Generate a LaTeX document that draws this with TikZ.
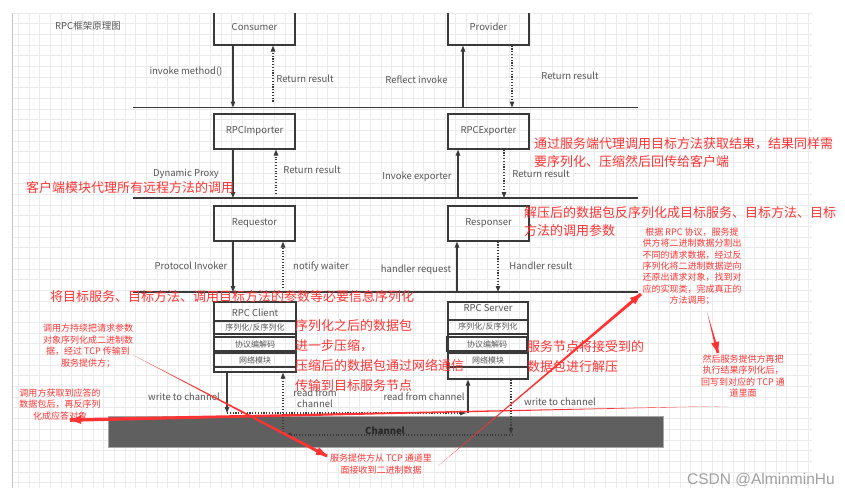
\documentclass[tikz,border=0pt]{standalone}
\usepackage{fontspec}
\setmainfont{Noto Sans CJK SC}
\newfontfamily\markfont{Liberation Sans}
\usetikzlibrary{arrows.meta, calc}
\definecolor{rpc-line}{HTML}{3A3A3A}
\definecolor{rpc-text}{HTML}{555555}
\definecolor{rpc-grid}{HTML}{EBEBEB}
\definecolor{rpc-red}{HTML}{FF3333}
\definecolor{rpc-channel}{HTML}{5F5F5F}
\definecolor{rpc-mark}{HTML}{A0A0A0}

% tapered red pointer: tail, tip, half width at the tip
\newcommand\redpointer[3]{%
  \fill[rpc-red] (#1) -- ($(#2)!#3!90:(#1)$) -- ($(#2)!#3!-90:(#1)$) -- cycle;
  \draw[rpc-red, line width=1pt, -{Triangle[length=11pt, width=8pt]}] ($(#2)!14pt!(#1)$) -- (#2);
}

\begin{document}
\begin{tikzpicture}[x=1pt, y=-1pt,
    box/.style={draw=rpc-line, line width=1.2pt, minimum width=81pt, minimum height=35pt, inner sep=0pt, font=\fontsize{9.5}{11}\selectfont, text=rpc-text},
    layer/.style={draw=rpc-line, line width=1.4pt, minimum width=80pt, minimum height=14pt, inner sep=0pt, font=\fontsize{8}{9}\selectfont, text=rpc-text},
    bus/.style={draw=rpc-line, line width=1.3pt},
    call/.style={draw=rpc-line, line width=1.1pt, -{Triangle[length=6pt, width=4.5pt]}},
    reply/.style={call, dash pattern=on 1.1pt off 1.7pt},
    tag/.style={font=\fontsize{9.5}{11.5}\selectfont, text=rpc-text, inner sep=0pt},
    note/.style={font=\fontsize{13}{20}\selectfont, text=rpc-red, inner sep=0pt, align=left},
    memo/.style={font=\fontsize{9}{11.4}\selectfont, text=rpc-red, inner sep=0pt, align=center, anchor=north},
]
    \useasboundingbox (0,0) rectangle (845,496);

    % Grid
    \foreach \gx in {18.3,28.97,...,812}
        \draw[rpc-grid, line width=0.6pt] (\gx,13) -- (\gx,488);
    \foreach \gy in {13,23.67,...,488}
        \draw[rpc-grid, line width=0.6pt] (12,\gy) -- (812,\gy);
    \draw[gray!45, line width=0.8pt] (12,13) -- (12,488);

    \node[tag] (title) at (88,26) {RPC框架原理图};

    % Top boxes (cut at the top edge)
    \begin{scope}
        \clip (0,13) rectangle (845,496);
        \node[box, minimum height=36pt] (consumer) at (254.5,27) {Consumer};
        \node[box, minimum height=36pt] (provider) at (488.5,27) {Provider};
    \end{scope}

    \node[box] (importer) at (254.5,131.5) {RPCImporter};
    \node[box] (exporter) at (488.5,131.5) {RPCExporter};
    \node[box] (requestor) at (254.5,223.5) {Requestor};
    \node[box] (responser) at (488.5,223.5) {Responser};

    % Layer lines
    \coordinate (bus1) at (133,107.5);
    \coordinate (bus2) at (133,198);
    \coordinate (bus3) at (133,292);
    \draw[bus] (bus1) -- ++(505,0);
    \draw[bus] (bus2) -- ++(505,0);
    \draw[bus] (bus3) -- ++(505,0);

    % Calls between layers
    \draw[call] ($(consumer.south)+(-21.5,0)$) -- ($(consumer.south |- bus1)+(-21.5,0)$);
    \draw[reply] ($(consumer.south |- bus1)+(18.5,-6)$) -- ($(consumer.south)+(18.5,0)$);
    \draw[call] ($(provider.south |- bus1)+(-25.5,-1)$) -- ($(provider.south)+(-25.5,0)$);
    \draw[reply] ($(provider.south)+(23.5,0)$) -- ($(provider.south |- bus1)+(23.5,0)$);

    \draw[call] ($(importer.south)+(-21.5,0)$) -- ($(importer.south |- bus2)+(-21.5,0)$);
    \draw[reply] ($(importer.south |- bus2)+(21.5,-4)$) -- ($(importer.south)+(21.5,0)$);
    \draw[call] ($(exporter.south |- bus2)+(-30.5,-1)$) -- ($(exporter.south)+(-30.5,0)$);
    \draw[reply] ($(exporter.south)+(15.5,0)$) -- ($(exporter.south |- bus2)+(15.5,0)$);

    \draw[call] ($(requestor.south)+(-21.5,0)$) -- ($(requestor.south |- bus3)+(-21.5,0)$);
    \draw[reply] ($(requestor.south |- bus3)+(28.5,-4)$) -- ($(requestor.south)+(28.5,0)$);
    \draw[call] ($(responser.south |- bus3)+(-31.5,-1)$) -- ($(responser.south)+(-31.5,0)$);
    \draw[reply] ($(responser.south)+(9.5,0)$) -- ($(responser.south |- bus3)+(9.5,0)$);

    \node[tag] (invoketag) at (186,72) {invoke method()};
    \node[tag] (returntag1) at (305,79) {Return result};
    \node[tag] (reflecttag) at (416.5,80) {Reflect invoke};
    \node[tag] (returntag2) at (570,76) {Return result};
    \node[tag] (proxytag) at (186,174) {Dynamic Proxy};
    \node[tag] (returntag3) at (312,170) {Return result};
    \node[tag] (exportertag) at (417,177) {Invoke exporter};
    \node[tag] (returntag4) at (541,174) {Return result};
    \node[tag] (protocoltag) at (191,266) {Protocol Invoker};
    \node[tag] (notifytag) at (321,267) {notify waiter};
    \node[tag] (handlertag) at (416,270) {handler request};
    \node[tag] (resulttag) at (541,266) {Handler result};

    % RPC Client / RPC Server
    \node[box, minimum width=82pt, minimum height=70pt] (client) at (255,337) {};
    \node[tag] (clienttitle) at (255,313) {RPC Client};
    \node[layer, minimum width=82pt, minimum height=13pt] (clientcodec) at (255,327.5) {序列化/反序列化};
    \node[layer, minimum width=82pt] (clientproto) at (255,344) {协议编解码};
    \node[layer, minimum width=82pt] (clientnet) at (255,360) {网络模块};

    \node[box, minimum width=80pt, minimum height=77pt] (server) at (488,340.5) {};
    \node[tag] (servertitle) at (488,308) {RPC Server};
    \node[layer] (servercodec) at (488,327) {序列化/反序列化};
    \node[layer] (serverproto) at (487,344) {协议编解码};
    \node[layer] (servernet) at (488,360) {网络模块};

    % Channel
    \node[draw=gray!70, fill=rpc-channel, minimum width=555pt, minimum height=31pt, inner sep=0pt] (channel) at (385.5,431.5) {};
    \node[font=\fontsize{9.5}{11}\selectfont\bfseries, text=black!85] (channeltag) at (385,431) {Channel};

    \coordinate (wrin) at (227,413);
    \coordinate (rdout) at (468,413);
    \coordinate (wrout) at (511,435);
    \coordinate (rdin) at (283,435);
    \draw[call] ($(client.south)+(-28,0)$) -- (wrin);
    \draw[reply] (wrin) -- ($(rdout)+(-2,0)$);
    \draw[call] (rdout) -- ($(server.south)+(-20,0)$);
    \draw[reply] ($(server.south)+(23,0)$) -- ($(wrout)+(0,-1)$);
    \draw[reply] ($(wrout)+(2,0)$) -- ($(rdin)+(2,0)$);
    \draw[reply] (rdin) -- ($(client.south)+(28,0)$);

    \node[tag] (writetag1) at (184,397) {write to channel};
    \node[tag, align=center] (readtag1) at (315,398) {read from\\channel};
    \node[tag] (readtag2) at (424,397) {read from channel};
    \node[tag] (writetag2) at (560,402) {write to channel};

    % Red notes
    \node[note, anchor=west] (proxynote) at (26,188) {客户端模块代理所有远程方法的调用};
    \node[note, anchor=north west, font=\fontsize{13}{18}\selectfont] (servernote) at (534,137) {通过服务端代理调用目标方法获取结果，结果同样需\\要序列化、压缩然后回传给客户端};
    \node[note, anchor=north west, font=\fontsize{13}{18.5}\selectfont] (unpacknote) at (524,206) {解压后的数据包反序列化成目标服务、目标方法、目标\\方法的调用参数};
    \node[note, anchor=west] (serialnote) at (50,297) {将目标服务、目标方法、调用目标方法的参数等必要信息序列化};
    \node[note, anchor=north west] (compressnote) at (295,319) {序列化之后的数据包\\进一步压缩，\\压缩后的数据包通过网络通信\\传输到目标服务节点};
    \node[note, anchor=north west] (decompressnote) at (527,340) {服务节点将接受到的\\数据包进行解压};

    \node[memo] (splitmemo) at (692,227.5) {根据 RPC 协议，服务提\\供方将二进制数据分割出\\不同的请求数据，经过反\\序列化将二进制数据逆向\\还原出请求对象，找到对\\应的实现类，完成真正的\\方法调用；};
    \node[memo] (writebackmemo) at (743,354.5) {然后服务提供方再把\\执行结果序列化后，\\回写到对应的 TCP 通\\道里面};
    \node[memo, font=\fontsize{9}{11.7}\selectfont] (sendmemo) at (88,323.5) {调用方持续把请求参数\\对象序列化成二进制数\\据，经过 TCP 传输到\\服务提供方；};
    \node[memo] (replymemo) at (60,388.5) {调用方获取到应答的\\数据包后，再反序列\\化成应答对象};
    \node[memo, font=\fontsize{9}{12}\selectfont] (recvmemo) at (381,453.5) {服务提供方从 TCP 通道里\\面接收到二进制数据};

    % Red pointers
    \coordinate (sendtail) at (133,355);
    \coordinate (sendtip) at (327,456);
    \coordinate (recvtail) at (438,466);
    \coordinate (recvtip) at (641,294);
    \coordinate (calltail) at (707,312);
    \coordinate (calltip) at (718,353);
    \coordinate (backtail) at (728,406);
    \coordinate (backtip) at (70,420);
    \redpointer{sendtail}{sendtip}{1.6pt}
    \redpointer{recvtail}{recvtip}{1.6pt}
    \redpointer{calltail}{calltip}{1.4pt}
    \redpointer{backtail}{backtip}{1.8pt}

    \node[font=\markfont\fontsize{15.5}{16}\selectfont, text=rpc-mark, anchor=west, inner sep=0pt] (mark) at (687,480) {CSDN @AlminminHu};
\end{tikzpicture}
\end{document}
